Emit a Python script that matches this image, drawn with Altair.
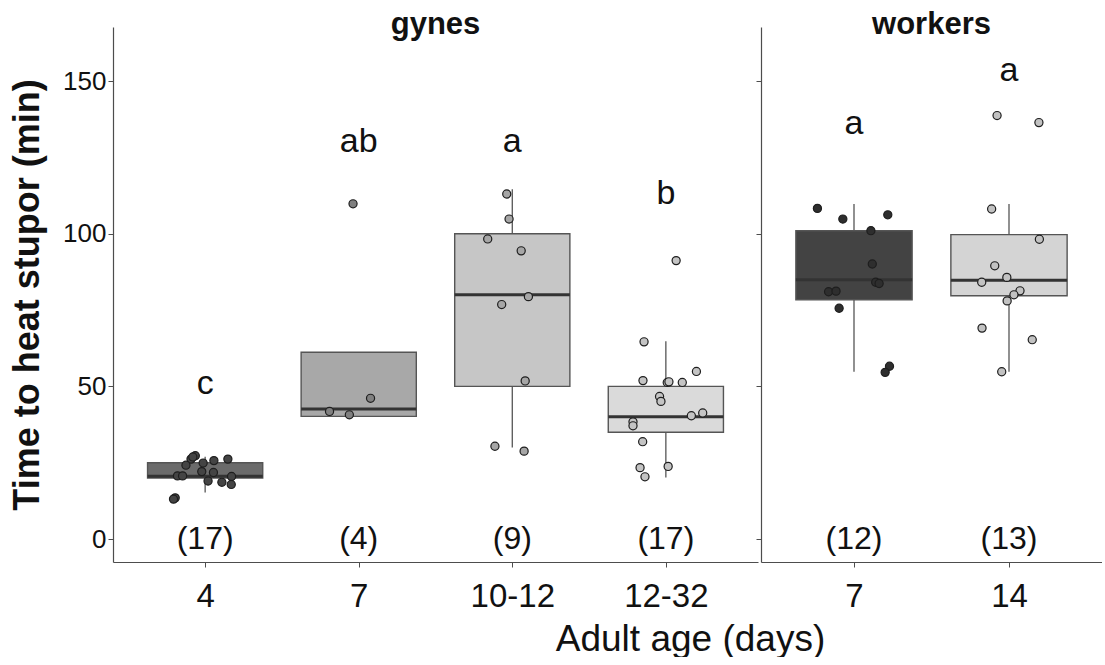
import json

import altair as alt
import pandas as pd

# ---- age groups ----
gyne_ages = ["4", "7", "10-12", "12-32"]
worker_ages = ["7", "14"]

# ---- box summaries (whisker low, Q1, median, Q3, whisker high) ----
gyne_lo = [15.3, 40.2, 30.0, 20.2]
gyne_q1 = [20.0, 40.2, 50.0, 35.0]
gyne_med = [20.6, 42.6, 80.0, 40.1]
gyne_q3 = [25.0, 61.2, 100.0, 50.0]
gyne_hi = [27.0, 61.2, 114.6, 64.8]

worker_lo = [54.8, 54.8]
worker_q1 = [78.4, 79.7]
worker_med = [84.9, 84.8]
worker_q3 = [101.0, 99.7]
worker_hi = [109.7, 109.7]

# ---- fills ----
gyne_box_fill = ["#6b6b6b", "#a8a8a8", "#c6c6c6", "#dadada"]
gyne_pt_fill = ["#444444", "#808080", "#a6a6a6", "#c4c4c4"]
worker_box_fill = ["#434343", "#d4d4d4"]
worker_pt_fill = ["#2e2e2e", "#c2c2c2"]

# ---- significance letters and sample sizes ----
gyne_letters = ["c", "ab", "a", "b"]
gyne_letter_y = [47.5, 126.8, 126.8, 109.7]
gyne_n = [17, 4, 9, 17]
worker_letters = ["a", "a"]
worker_letter_y = [132.7, 150.0]
worker_n = [12, 13]

# ---- individual measurements (minutes) with horizontal jitter ----
g4_vals = [27.3, 26.2, 24.2, 24.9, 25.7, 26.2, 20.7, 20.7, 22.1, 21.8, 19.0, 18.6,
           20.5, 17.9, 13.5, 13.1, 26.9]
g4_jit = [-0.064, -0.092, -0.125, -0.013, 0.057, 0.148, -0.18, -0.147, -0.022, 0.054,
          0.019, 0.109, 0.172, 0.17, -0.195, -0.206, -0.08]
g7_vals = [109.8, 46.1, 41.8, 40.7]
g7_jit = [-0.037, 0.077, -0.19, -0.061]
g10_vals = [113.0, 104.8, 98.3, 94.4, 79.4, 76.8, 51.8, 30.4, 28.8]
g10_jit = [-0.036, -0.021, -0.16, 0.058, 0.105, -0.069, 0.084, -0.113, 0.077]
g12_vals = [91.2, 64.6, 54.9, 51.9, 51.3, 51.3, 46.7, 45.1, 40.4, 41.3, 38.4, 37.1,
            31.9, 23.8, 23.4, 20.4, 51.5]
g12_jit = [0.067, -0.142, 0.199, -0.149, 0.009, 0.107, -0.041, -0.032, 0.166, 0.24,
           -0.214, -0.214, -0.151, 0.015, -0.168, -0.136, 0.02]
w7_vals = [108.3, 104.8, 106.2, 101.0, 90.1, 84.1, 83.7, 81.0, 81.2, 75.6, 56.6, 54.6]
w7_jit = [-0.236, -0.072, 0.218, 0.109, 0.118, 0.14, 0.162, -0.164, -0.116, -0.096,
          0.229, 0.201]
w14_vals = [138.7, 136.4, 108.1, 98.2, 89.5, 85.7, 84.1, 81.3, 80.0, 78.0, 69.1, 65.3, 54.8]
w14_jit = [-0.077, 0.193, -0.112, 0.196, -0.092, -0.014, -0.176, 0.071, 0.032, -0.012,
           -0.174, 0.15, -0.047]

# ---- layout ----
H = 535
W_GYNE = 645
W_WORK = 341
Y_DOMAIN = [-7.5, 167.7]
FONT = "Liberation Sans"
HALF_BOX = 0.375  # half the box width, in category steps


def box_table(ages, lo, q1, med, q3, hi, fill, letters, letter_y, n):
    return pd.DataFrame({
        "pos": list(range(len(ages))), "lo": lo, "q1": q1, "med": med, "q3": q3,
        "hi": hi, "fill": fill, "letter": letters, "letter_y": letter_y,
        "n_label": [f"({k})" for k in n], "zero": [0] * len(ages),
    })


def point_table(groups):
    rows = []
    for pos, (vals, jit, fill) in enumerate(groups):
        for v, j in zip(vals, jit):
            rows.append({"pos": pos, "value": v, "jit": j, "fill": fill})
    return pd.DataFrame(rows)


def panel(ages, boxes, points, width, title, show_y_labels, x_title):
    n = len(ages)
    # categories sit at 0..n-1 with 0.6 of a step free on either side
    xscale = alt.Scale(domain=[-0.6, n - 0.4], nice=False, zero=False)
    yscale = alt.Scale(domain=Y_DOMAIN, nice=False, zero=False)
    label_expr = f"{json.dumps(ages)}[datum.value]"

    axis_common = dict(values=list(range(n)), labelExpr=label_expr, labelAngle=0,
                       labelFontSize=33, labelPadding=13, grid=False)
    if x_title:
        xaxis = alt.Axis(title="Adult age (days)", titleX=690 - 113, titleAlign="center",
                         titleFontSize=37, titleFontWeight="normal", titlePadding=8,
                         **axis_common)
    else:
        xaxis = alt.Axis(title=None, **axis_common)

    if show_y_labels:
        yaxis = alt.Axis(title="Time to heat stupor (min)", values=[0, 50, 100, 150],
                         titleFontSize=36, titleFontWeight="bold", labelFontSize=26,
                         titlePadding=16, labelPadding=2)
    else:
        yaxis = alt.Axis(title=None, values=[0, 50, 100, 150], labels=False)

    x = lambda f: alt.X(f, scale=xscale, axis=xaxis)
    y = lambda f: alt.Y(f, scale=yscale, axis=yaxis)

    base = alt.Chart(boxes).transform_calculate(
        left=f"datum.pos - {HALF_BOX}", right=f"datum.pos + {HALF_BOX}")

    whisker = base.mark_rule(color="#555555", strokeWidth=1.3).encode(
        x=x("pos:Q"), y=y("lo:Q"), y2="hi:Q")
    box = base.mark_rect(stroke="#555555", strokeWidth=1.4, opacity=1).encode(
        x=x("left:Q"), x2="right:Q", y=y("q1:Q"), y2="q3:Q",
        fill=alt.Fill("fill:N", scale=None))
    median = base.mark_rule(color="#333333", strokeWidth=3).encode(
        x=x("left:Q"), x2="right:Q", y=y("med:Q"))
    letters = base.mark_text(fontSize=34, baseline="alphabetic", color="#111111",
                             font=FONT).encode(x=x("pos:Q"), y=y("letter_y:Q"),
                                               text="letter:N")
    counts = base.mark_text(fontSize=32, baseline="middle", color="#111111",
                            font=FONT).encode(x=x("pos:Q"), y=y("zero:Q"),
                                              text="n_label:N")
    dots = alt.Chart(points).transform_calculate(
        xj="datum.pos + datum.jit"
    ).mark_circle(size=66, stroke="#1e1e1e", strokeWidth=1.2, opacity=1).encode(
        x=x("xj:Q"), y=y("value:Q"), fill=alt.Fill("fill:N", scale=None))
    header = alt.Chart(pd.DataFrame({"label": [title]})).mark_text(
        fontSize=31, fontWeight="bold", font=FONT, color="#111111",
        baseline="alphabetic", align="center", dy=7,
    ).encode(x=alt.value(width / 2), y=alt.value(0), text="label:N")

    return alt.layer(whisker, box, median, dots, letters, counts, header).properties(
        width=width, height=H)


gyne_boxes = box_table(gyne_ages, gyne_lo, gyne_q1, gyne_med, gyne_q3, gyne_hi,
                       gyne_box_fill, gyne_letters, gyne_letter_y, gyne_n)
worker_boxes = box_table(worker_ages, worker_lo, worker_q1, worker_med, worker_q3,
                         worker_hi, worker_box_fill, worker_letters, worker_letter_y,
                         worker_n)
gyne_points = point_table([
    (g4_vals, g4_jit, gyne_pt_fill[0]),
    (g7_vals, g7_jit, gyne_pt_fill[1]),
    (g10_vals, g10_jit, gyne_pt_fill[2]),
    (g12_vals, g12_jit, gyne_pt_fill[3]),
])
worker_points = point_table([
    (w7_vals, w7_jit, worker_pt_fill[0]),
    (w14_vals, w14_jit, worker_pt_fill[1]),
])

left = panel(gyne_ages, gyne_boxes, gyne_points, W_GYNE, "gynes", True, True)
right = panel(worker_ages, worker_boxes, worker_points, W_WORK, "workers", False, False)

chart = alt.hconcat(left, right, spacing=3, bounds="flush").properties(
    padding={"left": 9, "top": 9, "right": 0, "bottom": 0},
).configure(font=FONT).configure_view(stroke=None).configure_axis(
    grid=False, domainColor="#4d4d4d", tickColor="#4d4d4d", domainWidth=1.2,
    tickSize=5, labelColor="#111111", titleColor="#111111", labelFont=FONT,
    titleFont=FONT,
)

chart.save("out.html", embed_options={"renderer": "svg", "actions": False})
